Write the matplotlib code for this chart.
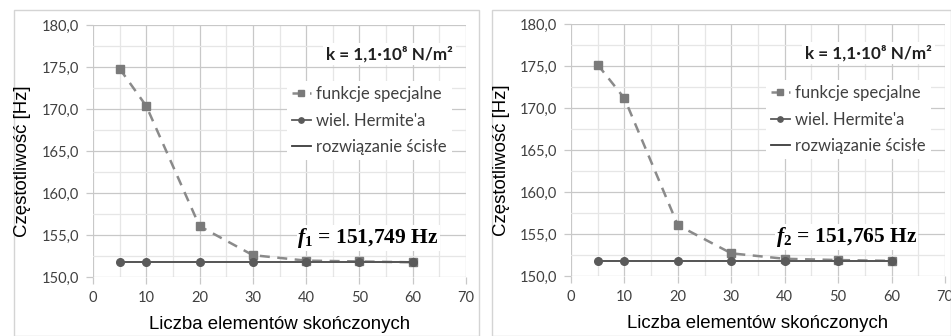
import matplotlib
matplotlib.use("Agg")
import matplotlib.pyplot as plt
from matplotlib.patches import Rectangle
from matplotlib.lines import Line2D
from matplotlib.ticker import MultipleLocator, FuncFormatter

# ---- data ----
n_elements = [5, 10, 20, 30, 40, 50, 60]
special_left = [174.8, 170.35, 156.05, 152.6, 151.95, 151.85, 151.75]
hermite_left = [151.75, 151.75, 151.75, 151.75, 151.75, 151.75, 151.75]
exact_left = 151.749
special_right = [175.15, 171.15, 156.05, 152.7, 152.05, 151.9, 151.8]
hermite_right = [151.765, 151.765, 151.765, 151.765, 151.765, 151.765, 151.765]
exact_right = 151.765
labels_left = "$\\mathbfit{f}_{\\mathbf{1}}$ = 151,749 Hz"
labels_right = "$\\mathbfit{f}_{\\mathbf{2}}$ = 151,765 Hz"
legend_labels = ["funkcje specjalne", "wiel. Hermite'a", "rozwiązanie ścisłe"]
k_text = "k = 1,1·10⁸ N/m²"
xlabel = "Liczba elementów skończonych"
ylabel = "Częstotliwość [Hz]"

W, H = 951, 336
fig = plt.figure(figsize=(W / 100, H / 100), dpi=100)
plt.rcParams['mathtext.fontset'] = 'custom'
plt.rcParams['mathtext.rm'] = 'Liberation Serif'
plt.rcParams['mathtext.bfit'] = 'Liberation Serif:bold:italic'
plt.rcParams['mathtext.bf'] = 'Liberation Serif:bold'

# panel frames
for (x0, x1) in [(14, 479), (492, 951)]:
    fig.patches.append(Rectangle((x0 / W, 0), (x1 - x0) / W, (H - 10) / H,
                                 transform=fig.transFigure, fill=False,
                                 edgecolor="#d4d4d4", lw=1.0))

def panel(rect, special, hermite, exact, ftext, ylab_x):
    ax = fig.add_axes(rect)
    ax.set_xlim(0, 70)
    ax.set_ylim(150, 180)
    ax.xaxis.set_major_locator(MultipleLocator(10))
    ax.xaxis.set_minor_locator(MultipleLocator(5))
    ax.yaxis.set_major_locator(MultipleLocator(5))
    ax.yaxis.set_minor_locator(MultipleLocator(2.5))
    ax.yaxis.set_major_formatter(FuncFormatter(lambda v, p: f"{v:.1f}".replace(".", ",")))
    ax.grid(which="major", color="#c8c8c8", lw=0.9)
    ax.grid(which="minor", color="#e6e6e6", lw=0.9)
    ax.set_axisbelow(True)
    for s in ax.spines.values():
        s.set_visible(False)
    ax.tick_params(which="major", length=5, color="#c8c8c8", width=0.9,
                   labelsize=10.5, labelcolor="#404040", pad=5)
    ax.tick_params(which="minor", length=0)
    for lab in ax.get_xticklabels() + ax.get_yticklabels():
        lab.set_fontfamily("Lato")
    l1, = ax.plot(n_elements, special, ls=(0, (4, 3)), color="#8a8a8a", lw=1.8,
                  marker="s", ms=6, mfc="#7a7a7a", mec="#7a7a7a", zorder=3)
    ax.hlines(exact, n_elements[0], n_elements[-1], color="#3a3a3a", lw=1.3, zorder=4)
    l2, = ax.plot(n_elements, hermite, ls="-", color="#5a5a5a", lw=1.3,
                  marker="o", ms=5.5, mfc="#5a5a5a", mec="#5a5a5a", zorder=5)
    h3 = Line2D([], [], color="#3a3a3a", lw=1.3)
    ax.legend([l1, l2, h3], legend_labels, loc="upper right",
              bbox_to_anchor=(0.985, 0.81), frameon=True, fancybox=False,
              edgecolor="none", facecolor="white", framealpha=1,
              prop={"family": "Lato", "size": 12}, labelcolor="#404040",
              handlelength=1.1, handletextpad=0.35, labelspacing=0.62,
              borderpad=0.3, markerscale=0.7)
    ax.text(0.965, 0.885, k_text, transform=ax.transAxes, ha="right", va="center",
            family=["Lato", "DejaVu Sans"], fontweight="bold", fontsize=12.3, color="#202020",
            bbox=dict(facecolor="white", edgecolor="none", pad=2), zorder=6)
    ax.text(0.548, 0.155, ftext, transform=ax.transAxes, ha="left", va="center",
            fontfamily="Liberation Serif", fontweight="bold", fontsize=15.5,
            color="black", bbox=dict(facecolor="white", edgecolor="none", pad=0.5), zorder=6)
    ax.set_xlabel(xlabel, fontfamily="Liberation Sans", fontsize=13.4, labelpad=8)
    fig.text(ylab_x / W, rect[1] + rect[3] * 0.5 - 0.03, ylabel, rotation=90,
             ha="center", va="center", fontfamily="Liberation Sans", fontsize=13.4)
    return ax

panel([93 / W, 1 - 277 / H, 373 / W, 252 / H], special_left, hermite_left,
      exact_left, labels_left, 23)
panel([571 / W, 1 - 276 / H, 374 / W, 252 / H], special_right, hermite_right,
      exact_right, labels_right, 501)

fig.savefig("out.png", dpi=100)
